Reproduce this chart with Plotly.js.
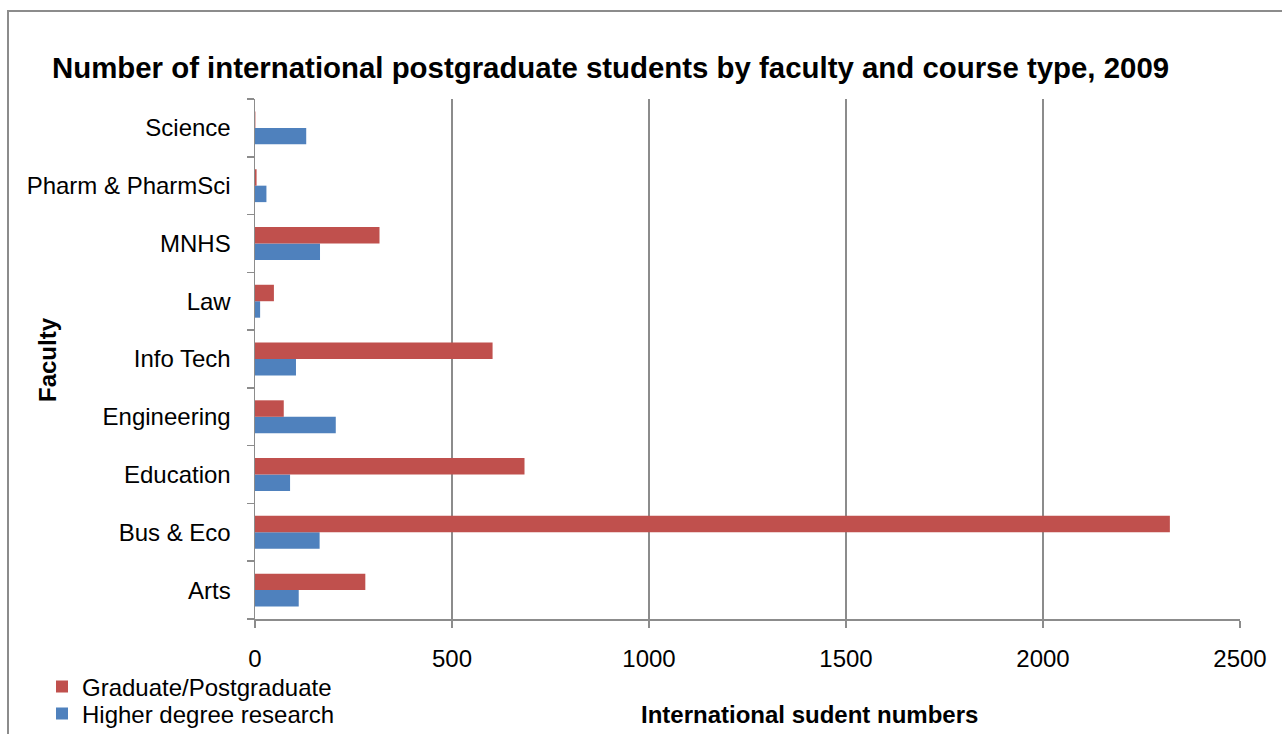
<!DOCTYPE html>
<html>
<head>
<meta charset="utf-8">
<script src="https://cdn.plot.ly/plotly-3.0.1.min.js"></script>
<style>
  html, body { margin: 0; padding: 0; background: #fff; }
  #wrap { position: relative; width: 1282px; height: 734px; overflow: hidden; }
  #chart { width: 1282px; height: 734px; }
  #frame { position: absolute; left: 7px; top: 10px; width: 1300px; height: 800px;
           border-left: 2px solid #8c8c8c; border-top: 2px solid #8c8c8c; pointer-events: none; }
</style>
</head>
<body>
<div id="wrap">
  <div id="chart"></div>
  <div id="frame"></div>
</div>
<script>
const faculties = ["Arts", "Bus & Eco", "Education", "Engineering", "Info Tech", "Law", "MNHS", "Pharm & PharmSci", "Science"];
const graduatePostgraduate = [280, 2322, 684, 73, 603, 48, 316, 4, 1];
const higherDegreeResearch = [111, 164, 89, 205, 104, 13, 165, 29, 130];
const xTicks = [0, 500, 1000, 1500, 2000, 2500];

const FONT = "Liberation Sans, Arial, sans-serif";
const GRID = "#8c8c8c";
const FS = 24;

const traces = [
  {
    type: "bar", orientation: "h", name: "Higher degree research",
    y: faculties, x: higherDegreeResearch, legend: "legend2",
    marker: { color: "#4F81BD", line: { width: 0 } }
  },
  {
    type: "bar", orientation: "h", name: "Graduate/Postgraduate",
    y: faculties, x: graduatePostgraduate, legend: "legend",
    marker: { color: "#C0504D", line: { width: 0 } }
  }
];

const legendBase = {
  orientation: "v", xref: "container", yref: "container",
  xanchor: "left", yanchor: "middle",
  font: { family: FONT, size: FS, color: "#000" },
  bgcolor: "rgba(0,0,0,0)", borderwidth: 0
};

const layout = {
  width: 1282, height: 734, autosize: false,
  margin: { l: 255, r: 42, t: 99, b: 115, pad: 0, autoexpand: false },
  paper_bgcolor: "#ffffff", plot_bgcolor: "#ffffff",
  font: { family: FONT, size: FS, color: "#000" },
  barmode: "group", bargap: 0.43, bargroupgap: 0,
  showlegend: true,
  title: {
    text: "<b>Number of international postgraduate students by faculty and course type, 2009</b>",
    font: { family: FONT, size: 29.4, color: "#000" },
    xref: "container", yref: "container", x: 52 / 1282, xanchor: "left",
    y: 1 - 68 / 734, yanchor: "middle"
  },
  xaxis: {
    range: [0, 2500], tickvals: xTicks, ticktext: xTicks.map(String),
    showgrid: true, gridcolor: GRID, gridwidth: 1.5,
    zeroline: false, showline: true, linecolor: GRID, linewidth: 1.5,
    ticks: "outside", ticklen: 7, tickwidth: 1.5, tickcolor: GRID,
    ticklabelstandoff: 11, automargin: false,
    tickfont: { family: FONT, size: FS, color: "#000" },
    fixedrange: true
  },
  yaxis: {
    type: "category", categoryorder: "array", categoryarray: faculties,
    showgrid: false, zeroline: false, showline: true, linecolor: GRID, linewidth: 1.5,
    ticks: "outside", ticklen: 7, tickwidth: 1.5, tickcolor: GRID, tickson: "boundaries",
    ticklabelstandoff: 18, automargin: false,
    tickfont: { family: FONT, size: FS, color: "#000" },
    fixedrange: true
  },
  legend: Object.assign({}, legendBase, { x: 42 / 1282, y: 1 - 687 / 734 }),
  legend2: Object.assign({}, legendBase, { x: 42 / 1282, y: 1 - 714 / 734 }),
  annotations: [
    {
      text: "<b>Faculty</b>", xref: "paper", yref: "paper",
      x: (47 - 255) / 985, y: 1 - (360 - 99) / 520, xanchor: "center", yanchor: "middle",
      textangle: -90, showarrow: false, font: { family: FONT, size: FS, color: "#000" }
    },
    {
      text: "<b>International sudent numbers</b>", xref: "paper", yref: "paper",
      x: (809 - 255) / 985, y: -(714 - 619) / 520, xanchor: "center", yanchor: "middle",
      showarrow: false, font: { family: FONT, size: FS, color: "#000" }
    }
  ]
};

Plotly.newPlot("chart", traces, layout, { displayModeBar: false, staticPlot: true });
</script>
</body>
</html>
